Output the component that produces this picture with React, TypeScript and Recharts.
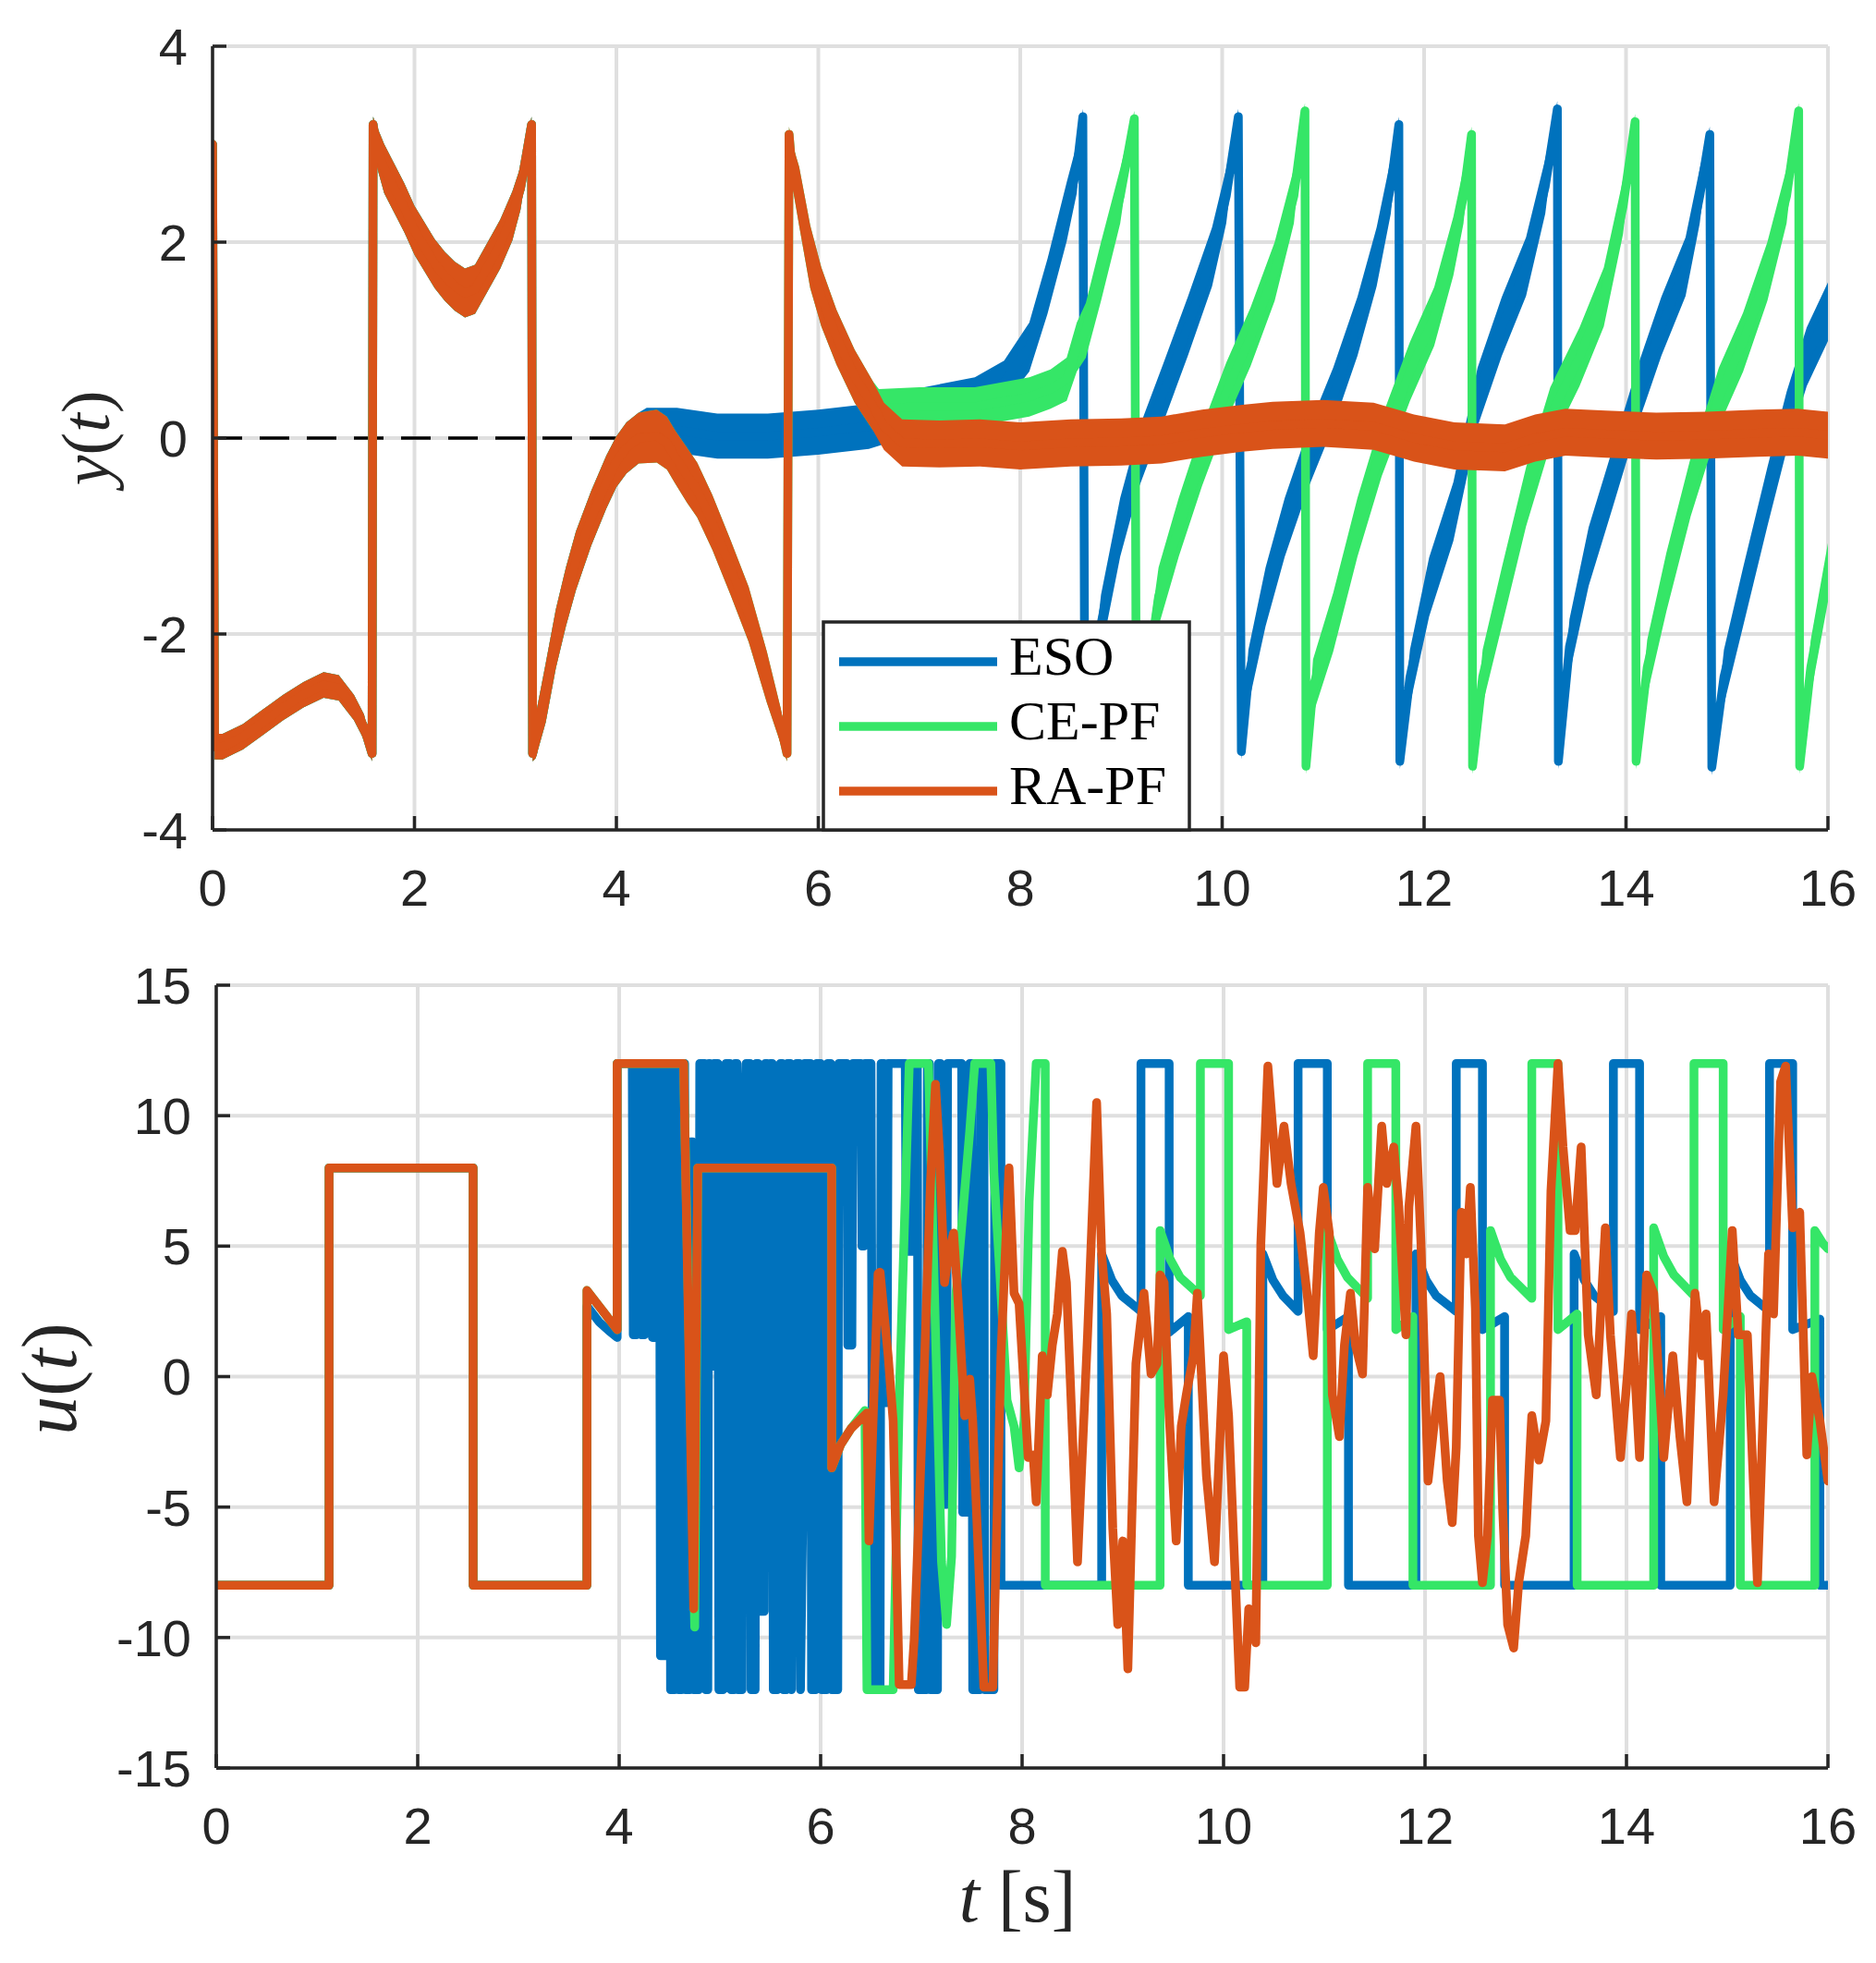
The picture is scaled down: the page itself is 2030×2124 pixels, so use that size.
import React from 'react';
import { ComposedChart, Line, Area, XAxis, YAxis, CartesianGrid } from 'recharts';

type P3 = [number, number, number]; // t, value, half width of the noise band
type P2 = [number, number];

const tTicks = [0, 2, 4, 6, 8, 10, 12, 14, 16];
const yTicks = [-4, -2, 0, 2, 4];
const uTicks = [-15, -10, -5, 0, 5, 10, 15];
const names = ['ESO', 'CE-PF', 'RA-PF'];
const colors = ['#0072bd', '#35e667', '#d95319'];

// ---- y(t), top panel ----
const yStart: P3[] = [
  [0, 3.0, 0.05], [0.02, -3.15, 0.13], [0.1, -3.15, 0.13], [0.3, -3.05, 0.13], [0.5, -2.9, 0.13],
  [0.7, -2.75, 0.13], [0.9, -2.62, 0.13], [1.1, -2.52, 0.13], [1.25, -2.55, 0.13], [1.4, -2.75, 0.13],
  [1.5, -2.95, 0.13], [1.58, -3.22, 0.08],
  [1.59, 3.2, 0.08], [1.62, 3.0, 0.2], [1.7, 2.75, 0.25], [1.8, 2.55, 0.25], [1.9, 2.35, 0.25],
  [2.0, 2.12, 0.25], [2.1, 1.95, 0.25], [2.2, 1.78, 0.25], [2.3, 1.65, 0.25], [2.4, 1.55, 0.25],
  [2.5, 1.48, 0.25], [2.6, 1.52, 0.25], [2.72, 1.74, 0.25], [2.85, 1.98, 0.25], [2.97, 2.27, 0.25],
  [3.05, 2.55, 0.22], [3.11, 2.9, 0.18], [3.16, 3.2, 0.08],
  [3.17, -3.22, 0.08], [3.2, -3.05, 0.22], [3.3, -2.6, 0.3], [3.4, -2.05, 0.3], [3.5, -1.62, 0.3],
  [3.6, -1.25, 0.3], [3.75, -0.82, 0.28], [3.9, -0.45, 0.27], [4.0, -0.24, 0.26], [4.1, -0.1, 0.26],
  [4.22, 0.0, 0.26],
];

const yBump: P3[] = [
  [4.4, 0.02, 0.27], [4.5, -0.05, 0.27], [4.58, -0.19, 0.27], [4.7, -0.38, 0.28], [4.8, -0.53, 0.28],
  [4.95, -0.86, 0.28], [5.13, -1.32, 0.28], [5.31, -1.8, 0.28], [5.49, -2.44, 0.26], [5.63, -2.95, 0.18],
  [5.69, -3.22, 0.08], [5.71, 3.1, 0.08], [5.73, 2.85, 0.2], [5.81, 2.47, 0.3], [5.92, 1.85, 0.32],
  [6.03, 1.44, 0.3], [6.18, 1.03, 0.28], [6.36, 0.63, 0.27], [6.54, 0.33, 0.25],
];

const yEso: P3[] = [
  ...yStart,
  [4.3, 0.08, 0.23], [4.6, 0.08, 0.23], [5.0, 0.02, 0.23], [5.5, 0.02, 0.23], [6.0, 0.06, 0.23],
  [6.5, 0.12, 0.23], [7.0, 0.28, 0.23], [7.55, 0.4, 0.22], [7.84, 0.57, 0.22], [8.09, 0.93, 0.25],
  [8.27, 1.55, 0.28], [8.46, 2.31, 0.3], [8.56, 2.75, 0.25], [8.62, 3.28, 0.08],
  [8.64, -3.3, 0.08], [8.7, -2.8, 0.28], [8.8, -1.9, 0.3], [8.99, -0.91, 0.3], [9.18, -0.19, 0.3],
  [9.42, 0.47, 0.3], [9.66, 1.14, 0.3], [9.9, 1.85, 0.3], [10.04, 2.47, 0.28], [10.16, 3.28, 0.08],
  [10.19, -3.2, 0.08], [10.26, -2.44, 0.28], [10.43, -1.62, 0.3], [10.62, -0.91, 0.3], [10.86, -0.19, 0.3],
  [11.1, 0.42, 0.3], [11.34, 1.14, 0.3], [11.53, 1.85, 0.3], [11.67, 2.57, 0.28], [11.75, 3.2, 0.08],
  [11.76, -3.3, 0.08], [11.86, -2.44, 0.28], [12.05, -1.52, 0.3], [12.29, -0.75, 0.3], [12.53, 0.42, 0.3],
  [12.77, 1.14, 0.3], [13.01, 1.75, 0.3], [13.2, 2.57, 0.28], [13.32, 3.36, 0.08],
  [13.33, -3.3, 0.08], [13.44, -2.13, 0.28], [13.63, -1.21, 0.3], [13.87, -0.4, 0.3], [14.11, 0.42, 0.3],
  [14.35, 1.14, 0.3], [14.59, 1.75, 0.3], [14.73, 2.47, 0.28], [14.83, 3.1, 0.08],
  [14.85, -3.36, 0.08], [14.97, -2.44, 0.28], [15.16, -1.62, 0.3], [15.4, -0.6, 0.3], [15.59, 0.17, 0.3],
  [15.79, 0.83, 0.3], [16.0, 1.29, 0.3],
];

const yCe: P3[] = [
  ...yStart,
  ...yBump,
  [6.6, 0.3, 0.2], [7.0, 0.32, 0.2], [7.55, 0.32, 0.2], [8.09, 0.42, 0.2], [8.3, 0.5, 0.2],
  [8.46, 0.6, 0.22], [8.56, 0.93, 0.25], [8.65, 1.1, 0.28], [8.8, 1.7, 0.3], [8.99, 2.47, 0.28],
  [9.13, 3.26, 0.08],
  [9.15, -3.3, 0.08], [9.25, -2.5, 0.28], [9.37, -1.62, 0.3], [9.57, -0.91, 0.3], [9.8, -0.19, 0.3],
  [10.04, 0.47, 0.3], [10.28, 1.03, 0.3], [10.52, 1.7, 0.3], [10.71, 2.47, 0.28], [10.82, 3.34, 0.08],
  [10.83, -3.35, 0.08], [10.9, -2.54, 0.28], [11.1, -1.88, 0.3], [11.34, -0.91, 0.3], [11.58, -0.09, 0.3],
  [11.86, 0.68, 0.3], [12.1, 1.24, 0.3], [12.29, 1.96, 0.3], [12.39, 2.47, 0.28], [12.47, 3.1, 0.08],
  [12.48, -3.35, 0.08], [12.58, -2.44, 0.28], [12.77, -1.62, 0.3], [13.01, -0.6, 0.3], [13.25, 0.22, 0.3],
  [13.54, 0.83, 0.3], [13.78, 1.44, 0.3], [13.97, 2.36, 0.28], [14.09, 3.23, 0.08],
  [14.1, -3.3, 0.08], [14.21, -2.34, 0.28], [14.4, -1.47, 0.3], [14.64, -0.5, 0.3], [14.92, 0.42, 0.3],
  [15.16, 0.98, 0.3], [15.4, 1.7, 0.3], [15.59, 2.47, 0.28], [15.71, 3.34, 0.08],
  [15.72, -3.35, 0.08], [15.83, -2.34, 0.28], [16.0, -1.37, 0.3],
];

const yRa: P3[] = [
  ...yStart,
  ...yBump,
  [6.65, 0.12, 0.24], [6.83, -0.05, 0.24], [7.2, -0.06, 0.24], [7.6, -0.05, 0.24], [8.0, -0.08, 0.24],
  [8.5, -0.05, 0.24], [9.0, -0.04, 0.24], [9.4, -0.02, 0.24], [9.8, 0.05, 0.24], [10.2, 0.1, 0.24],
  [10.5, 0.13, 0.24], [11.0, 0.15, 0.24], [11.5, 0.12, 0.24], [11.9, 0.0, 0.24], [12.3, -0.08, 0.24],
  [12.8, -0.1, 0.24], [13.1, 0.0, 0.24], [13.4, 0.06, 0.24], [13.8, 0.04, 0.24], [14.3, 0.02, 0.24],
  [14.8, 0.03, 0.24], [15.3, 0.05, 0.24], [15.7, 0.06, 0.24], [16.0, 0.03, 0.24],
];

const yRef: P2[] = [[0, 0], [16, 0]];

// ---- u(t), bottom panel ----
const uStart: P2[] = [[0, -8], [1.12, -8], [1.12, 8], [2.55, 8], [2.55, -8], [3.68, -8]];

const uEso: P2[] = [
  ...uStart,
  [3.68, 2.7], [3.8, 2.1], [3.9, 1.75], [3.98, 1.5], [3.98, 12],
  [4.13, 12], [4.14, 1.6], [4.17, 1.6], [4.18, 12], [4.21, 12], [4.22, 1.6], [4.25, 1.6], [4.26, 12],
  [4.32, 12], [4.33, 1.5], [4.37, 1.5], [4.38, 12], [4.4, 12], [4.41, -10.7], [4.45, -10.7], [4.46, 12],
  [4.5, 12], [4.51, -12], [4.55, -12], [4.56, 12], [4.58, 12], [4.59, -12], [4.62, -12], [4.63, 12],
  [4.65, 12], [4.66, -12], [4.7, -12], [4.71, 9], [4.73, 9], [4.74, -12], [4.79, -12], [4.8, 12],
  [4.85, 12], [4.86, -12], [4.88, -12], [4.89, 12], [4.9, 12], [4.91, 0.4], [4.93, 0.4], [4.94, 12],
  [4.98, 12], [4.99, -12], [5.03, -12], [5.04, 2.6], [5.06, 12], [5.1, 12], [5.11, -12], [5.14, -12],
  [5.15, 12], [5.17, 12], [5.18, -12], [5.22, -12], [5.23, 7.6], [5.26, 12], [5.3, 12], [5.31, -12],
  [5.35, -12], [5.36, 12], [5.38, 12], [5.39, -9], [5.44, -9], [5.45, 12], [5.47, 12], [5.48, 10.5],
  [5.5, 12], [5.52, 12], [5.53, -12], [5.57, -12], [5.58, 7.6], [5.6, 12], [5.62, 12], [5.63, -12],
  [5.66, -12], [5.67, 12], [5.7, 12], [5.71, -12], [5.74, 5.3], [5.76, 12], [5.79, 12], [5.8, -12],
  [5.82, -6], [5.84, 12], [5.9, 12], [5.91, -12], [5.95, -12], [5.96, 12], [6.0, 12], [6.01, -12],
  [6.06, -12], [6.07, 12], [6.1, 12], [6.11, -12], [6.17, -12], [6.18, 12], [6.26, 12], [6.27, 1.2],
  [6.31, 1.2], [6.32, 12], [6.4, 12], [6.41, 5], [6.43, 5], [6.44, 12], [6.5, 12], [6.52, -12],
  [6.59, -12], [6.6, 12], [6.63, 12], [6.64, -1], [6.66, -1], [6.67, 12], [6.84, 12], [6.85, 4.8],
  [6.92, 4.8], [6.93, 12], [6.96, 12], [6.97, -12], [7.05, -12], [7.06, 12], [7.08, 12], [7.09, -12],
  [7.16, -12], [7.17, 12], [7.19, 12], [7.2, -4.9], [7.25, -4.9], [7.26, 12], [7.4, 12], [7.41, -5.2],
  [7.47, -5.2], [7.48, 12], [7.5, 12], [7.51, -12], [7.58, -12], [7.59, 12], [7.62, 12], [7.63, -12],
  [7.72, -12], [7.73, 12], [7.79, 12],
  [7.79, -8], [8.79, -8], [8.79, 4.7], [8.89, 3.7], [8.99, 3.1], [9.18, 2.5], [9.18, 12], [9.46, 12],
  [9.46, 1.7], [9.65, 2.3], [9.65, -8], [10.39, -8], [10.39, 4.7], [10.49, 3.7], [10.59, 3.1],
  [10.74, 2.5], [10.74, 12], [11.03, 12], [11.03, 1.8], [11.24, 2.3], [11.24, -8], [11.91, -8],
  [11.91, 4.7], [12.01, 3.7], [12.11, 3.1], [12.31, 2.5], [12.31, 12], [12.57, 12], [12.57, 1.8],
  [12.79, 2.3], [12.79, -8], [13.48, -8], [13.48, 4.7], [13.58, 3.7], [13.68, 3.1], [13.87, 2.5],
  [13.87, 12], [14.13, 12], [14.13, 1.8], [14.34, 2.3], [14.34, -8], [15.03, -8], [15.03, 4.7],
  [15.13, 3.7], [15.23, 3.1], [15.42, 2.5], [15.42, 12], [15.65, 12], [15.65, 1.8], [15.92, 2.2],
  [15.92, -8], [16, -8],
];

const uCe: P2[] = [
  ...uStart,
  [3.68, 3.3], [3.98, 1.8], [3.98, 12], [4.64, 12], [4.75, -9.6], [4.78, 8], [6.11, 8], [6.11, -3.5],
  [6.2, -2.6], [6.3, -2.0], [6.44, -1.3], [6.46, -12], [6.72, -12], [6.78, -0.9], [6.88, 12],
  [7.07, 12], [7.13, 3.2], [7.2, -7.1], [7.25, -9.5], [7.3, -6.9], [7.34, 3.0], [7.48, 9.4], [7.53, 12],
  [7.69, 12], [7.72, 7.8], [7.78, 3.9], [7.85, -0.9], [7.92, -1.9], [7.97, -3.5], [8.02, -1.7],
  [8.07, 6.7], [8.14, 12], [8.23, 12], [8.23, -8], [9.37, -8], [9.37, 5.6], [9.47, 4.5], [9.57, 3.8],
  [9.77, 3.1], [9.77, 12], [10.05, 12], [10.05, 1.8], [10.23, 2.1], [10.23, -8], [11.03, -8],
  [11.03, 5.6], [11.13, 4.5], [11.23, 3.8], [11.43, 3.0], [11.43, 12], [11.71, 12], [11.71, 1.8],
  [11.88, 2.3], [11.88, -8], [12.65, -8], [12.65, 5.6], [12.75, 4.5], [12.85, 3.8], [13.06, 3.0],
  [13.06, 12], [13.32, 12], [13.32, 1.8], [13.51, 2.4], [13.51, -8], [14.27, -8], [14.27, 5.7],
  [14.37, 4.6], [14.47, 3.9], [14.67, 3.1], [14.67, 12], [14.96, 12], [14.96, 1.8], [15.13, 2.3],
  [15.13, -8], [15.87, -8], [15.87, 5.6], [15.95, 5.1], [16, 4.9],
];

const uRa: P2[] = [
  ...uStart,
  [3.68, 3.3], [3.98, 1.8], [3.98, 12], [4.64, 12], [4.74, -8.9], [4.78, 8], [6.11, 8], [6.11, -3.5],
  [6.2, -2.6], [6.3, -2.0], [6.46, -1.4], [6.48, -6.3], [6.57, 3.95], [6.59, 4.0], [6.67, 0.8],
  [6.72, -1.7], [6.78, -11.8], [6.9, -11.8], [6.93, -10], [7.02, -0.7], [7.09, 7.4], [7.14, 11.2],
  [7.18, 8.6], [7.23, 3.6], [7.27, 4.7], [7.32, 5.5], [7.36, 3.2], [7.43, -1.5], [7.48, -0.1],
  [7.51, -1.7], [7.62, -11.9], [7.71, -11.9], [7.79, 0.8], [7.87, 8.0], [7.92, 3.2], [7.97, 2.8],
  [8.06, -3.1], [8.11, -3.0], [8.14, -4.8], [8.2, 0.8], [8.25, -0.7], [8.3, 1.2], [8.35, 2.4],
  [8.4, 4.8], [8.44, 3.6], [8.55, -7.1], [8.65, 1.6], [8.74, 10.5], [8.79, 4.7], [8.84, 2.4],
  [8.9, -5.8], [8.95, -9.5], [9.0, -6.3], [9.05, -11.2], [9.13, 0.5], [9.21, 3.2], [9.28, 0.1],
  [9.34, 0.5], [9.37, 3.9], [9.41, 3.6], [9.46, -1.5], [9.53, -6.3], [9.58, -1.9], [9.63, -0.7],
  [9.7, 0.8], [9.74, 3.2], [9.83, -3.8], [9.91, -7.1], [10.0, 0.8], [10.05, -1.5], [10.16, -11.9],
  [10.21, -11.9], [10.25, -8.9], [10.32, -10.2], [10.37, 5.1], [10.44, 11.9], [10.53, 7.4],
  [10.6, 9.6], [10.67, 7.4], [10.76, 5.5], [10.84, 2.8], [10.89, 0.8], [10.95, 5.5], [10.99, 7.25],
  [11.05, 5.5], [11.08, -0.7], [11.15, -2.3], [11.2, 1.2], [11.26, 3.2], [11.31, 1.2], [11.38, 0.1],
  [11.43, 7.25], [11.5, 4.9], [11.57, 9.6], [11.62, 7.4], [11.69, 8.8], [11.74, 6.5], [11.81, 1.6],
  [11.84, 6.5], [11.91, 9.6], [11.96, 5.1], [12.03, -4.0], [12.1, -1.5], [12.15, 0.0], [12.22, -4.0],
  [12.27, -5.6], [12.31, -2.7], [12.36, 6.3], [12.41, 4.7], [12.45, 7.25], [12.5, 2.6], [12.53, -6.1],
  [12.57, -7.9], [12.62, -6.1], [12.67, -0.9], [12.74, -0.9], [12.77, -5.0], [12.82, -9.5],
  [12.88, -10.4], [12.93, -7.9], [13.0, -6.1], [13.06, -1.5], [13.13, -3.2], [13.2, -1.7],
  [13.25, 7.1], [13.32, 12.0], [13.37, 8.8], [13.44, 5.6], [13.49, 5.6], [13.55, 8.8], [13.62, 1.6],
  [13.7, -0.7], [13.79, 5.7], [13.84, 1.6], [13.94, -3.1], [14.01, 0.1], [14.05, 2.4], [14.13, -3.1],
  [14.2, 3.9], [14.27, 3.2], [14.37, -3.1], [14.46, 0.8], [14.53, -2.3], [14.6, -4.8], [14.68, 3.2],
  [14.75, 0.8], [14.79, 2.4], [14.87, -4.8], [14.96, -0.7], [15.05, 5.6], [15.11, 1.6], [15.2, 1.6],
  [15.3, -7.9], [15.41, 4.7], [15.46, 2.4], [15.53, 11.3], [15.58, 11.9], [15.65, 5.7], [15.72, 6.3],
  [15.79, -3.0], [15.84, 0.0], [15.92, -1.7], [16.0, -4.0],
];

const bandRows = (pts: P3[]) => pts.map(([t, y, n]) => ({ t, y, band: [y - n, y + n] }));
const lineRows = (pts: P2[]) => pts.map(([t, v]) => ({ t, v }));

const topSeries = [yEso, yCe, yRa].map(bandRows);
const bottomSeries = [uEso, uCe, uRa].map(lineRows);

const ink = '#262626';
const axisStyle = { stroke: ink, strokeWidth: 3.5 };
const tickFont = { fill: ink, fontSize: 56, fontFamily: '"Liberation Sans", Arial, sans-serif' };
const serif = '"Liberation Serif", "Times New Roman", serif';
const LW = 9.5;

function frame(yDomain: [number, number], yTickVals: number[], leftWidth: number, bottomHeight: number) {
  return [
    <CartesianGrid key="g" stroke="#dfdfdf" strokeWidth={4} />,
    <XAxis key="xb" dataKey="t" type="number" domain={[0, 16]} ticks={tTicks} allowDataOverflow
      height={bottomHeight} tickSize={-15} tickMargin={57} axisLine={axisStyle} tickLine={axisStyle} tick={tickFont} />,
    <XAxis key="xt" xAxisId="top" orientation="top" dataKey="t" type="number" domain={[0, 16]} ticks={tTicks}
      allowDataOverflow height={0} tickSize={-15} axisLine={axisStyle} tickLine={axisStyle} tick={false} />,
    <YAxis key="yl" type="number" domain={yDomain} ticks={yTickVals} allowDataOverflow width={leftWidth}
      tickSize={-15} tickMargin={42} axisLine={axisStyle} tickLine={axisStyle} tick={tickFont} />,
    <YAxis key="yr" yAxisId="right" orientation="right" type="number" domain={yDomain} ticks={yTickVals}
      allowDataOverflow width={0} tickSize={-15} axisLine={axisStyle} tickLine={axisStyle} tick={false} />,
  ];
}

export default function App() {
  return (
    <div style={{ position: 'absolute', left: 0, top: 0, width: 2030, height: 2124, background: '#fff' }}>
      <div style={{ position: 'absolute', left: 0, top: 0 }}>
        <ComposedChart width={2030} height={1000} margin={{ top: 50, right: 52, bottom: 0, left: 0 }}>
          {frame([-4, 4], yTicks, 230, 102)}
          <Line data={lineRows(yRef)} dataKey="v" stroke="#000" strokeWidth={3.5} strokeDasharray="32 19"
            dot={false} activeDot={false} isAnimationActive={false} zIndex={5} />
          {topSeries.map((rows, i) => [
            <Area key={`a${i}`} data={rows} dataKey="band" stroke="none" fill={colors[i]} fillOpacity={1}
              type="linear" dot={false} activeDot={false} isAnimationActive={false} zIndex={10 + 2 * i} />,
            <Line key={`l${i}`} data={rows} dataKey="y" name={names[i]} stroke={colors[i]} strokeWidth={LW}
              type="linear" strokeLinejoin="round" strokeLinecap="round" dot={false} activeDot={false}
              isAnimationActive={false} zIndex={11 + 2 * i} />,
          ])}
        </ComposedChart>
      </div>
      <div style={{ position: 'absolute', left: 0, top: 1000 }}>
        <ComposedChart width={2030} height={1124} margin={{ top: 66, right: 52, bottom: 0, left: 0 }}>
          {frame([-15, 15], uTicks, 234, 211)}
          {bottomSeries.map((rows, i) => (
            <Line key={`u${i}`} data={rows} dataKey="v" name={names[i]} stroke={colors[i]} strokeWidth={LW}
              type="linear" strokeLinejoin="round" strokeLinecap="round" dot={false} activeDot={false}
              isAnimationActive={false} zIndex={10 + i} />
          ))}
        </ComposedChart>
      </div>
      <svg width={2030} height={2124} style={{ position: 'absolute', left: 0, top: 0, pointerEvents: 'none' }}>
        <rect x={891} y={673} width={396} height={225} fill="#fff" stroke={ink} strokeWidth={3.5} />
        {names.map((n, i) => (
          <g key={n}>
            <line x1={908} x2={1079} y1={716 + 70 * i} y2={716 + 70 * i} stroke={colors[i]} strokeWidth={LW} />
            <text x={1092} y={730 + 70 * i} fontSize={60} fontFamily={serif} fill="#000">{n}</text>
          </g>
        ))}
        <text transform="translate(118,474) rotate(-90)" textAnchor="middle" fontSize={74} fontFamily={serif} fill={ink}>
          <tspan fontStyle="italic">y</tspan>(<tspan fontStyle="italic">t</tspan>)
        </text>
        <text transform="translate(82,1492) rotate(-90)" textAnchor="middle" fontSize={84} fontFamily={serif} fill={ink}>
          <tspan fontStyle="italic">u</tspan>(<tspan fontStyle="italic">t</tspan>)
        </text>
        <text x={1101} y={2079} textAnchor="middle" fontSize={80} fontFamily={serif} fill={ink}>
          <tspan fontStyle="italic">t</tspan> [s]
        </text>
      </svg>
    </div>
  );
}
